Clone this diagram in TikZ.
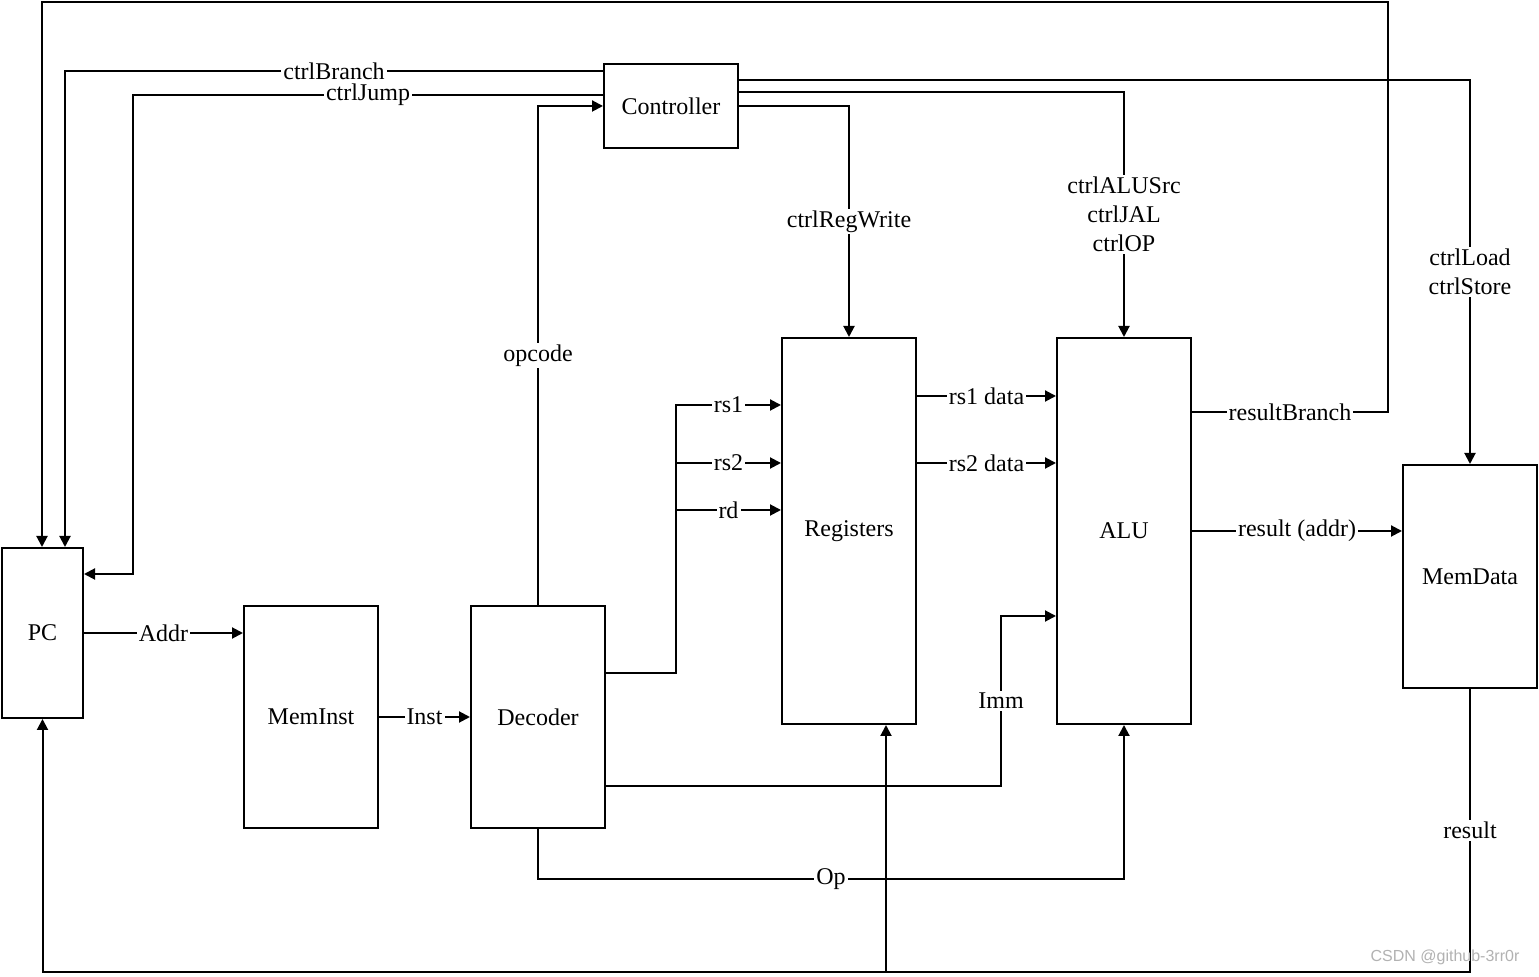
\documentclass[tikz,border=0pt]{standalone}
\usepackage{fontspec}
\setmainfont{Liberation Serif}
\newfontfamily\wmfont{Liberation Sans}
\usetikzlibrary{arrows.meta}
\begin{document}
\begin{tikzpicture}[x=0.5pt,y=-0.5pt,
  line width=1pt,
  every node/.style={font=\fontsize{12}{14.5}\selectfont},
  blk/.style={draw,line width=1pt,inner sep=0pt,align=center},
  arr/.style={-{Triangle[length=5.5pt,width=5.5pt]}},
  wire/.style={},
  lbl/.style={fill=white,inner sep=1pt,align=center}]
\useasboundingbox (0,0) rectangle (1539,977);
\fill[white] (0,0) rectangle (1539,977);
% blocks
\node[blk,minimum width=40.5pt,minimum height=85pt] (pc) at (42.5,633) {PC};
\node[blk,minimum width=67pt,minimum height=111pt] (mi) at (311,717) {MemInst};
\node[blk,minimum width=67pt,minimum height=111pt] (dec) at (538,717) {Decoder};
\node[blk,minimum width=67pt,minimum height=42pt] (ctrl) at (671,106) {Controller};
\node[blk,minimum width=67pt,minimum height=193pt] (reg) at (849,531) {Registers};
\node[blk,minimum width=67pt,minimum height=193pt] (alu) at (1124,531) {ALU};
\node[blk,minimum width=67pt,minimum height=111.5pt] (mem) at (1470,576.5) {MemData};
% junction coordinates
\coordinate (jrs2) at (676,463);
\coordinate (jrd) at (676,510);
\coordinate (jres) at (886,972);
% connectors
\draw[arr] (alu.east |- 0,412) -- node[lbl]{resultBranch} (1388,412) |- (42,2) -- (pc.north -| 42,0);
\draw[arr] (ctrl.west |- 0,71) -- node[lbl]{ctrlBranch} (65,71) -- (pc.north -| 65,0);
\draw[arr] (ctrl.west |- 0,95) -- node[lbl]{ctrlJump} (133,95) |- (pc.east |- 0,574);
\draw[arr] (dec.north) |- node[lbl,pos=0.25]{opcode} (ctrl.west);
\draw[arr] (ctrl.east |- 0,80) -| node[lbl,pos=0.75]{ctrlLoad\\ctrlStore} (mem.north);
\draw[arr] (ctrl.east |- 0,92) -| node[lbl,pos=0.75]{ctrlALUSrc\\ctrlJAL\\ctrlOP} (alu.north);
\draw[arr] (ctrl.east) -| node[lbl,pos=0.75]{ctrlRegWrite} (reg.north);
\draw[arr] (dec.east |- 0,673) -| (676,405) -- node[lbl]{rs1} (reg.west |- 0,405);
\draw[arr] (jrs2) -- node[lbl]{rs2} (reg.west |- jrs2);
\draw[arr] (jrd) -- node[lbl]{rd} (reg.west |- jrd);
\draw[arr] (reg.east |- 0,396) -- node[lbl]{rs1 data} (alu.west |- 0,396);
\draw[arr] (reg.east |- 0,463) -- node[lbl]{rs2 data} (alu.west |- 0,463);
\draw[arr] (dec.east |- 0,786) -| node[lbl,pos=0.75]{Imm} (1001,616) -- (alu.west |- 0,616);
\draw[arr] (dec.south) -- (dec.south |- 0,879) -- node[lbl]{Op} (alu.south |- 0,879) -- (alu.south);
\draw[arr] (mem.south) -- node[lbl]{result} (mem.south |- 0,972) -- (pc.south |- 0,972) -- (pc.south);
\draw[arr] (jres) -- (reg.south -| jres);
\draw[arr] (alu.east) -- node[lbl]{result (addr)} (mem.west |- alu.east);
\draw[arr] (pc.east) -- node[lbl]{Addr} (mi.west |- pc.east);
\draw[arr] (mi.east) -- node[lbl]{Inst} (dec.west);
% watermark
\node[text=black!30,font=\wmfont\fontsize{8}{9}\selectfont] (wm) at (1445,957) {CSDN @github-3rr0r};
\end{tikzpicture}
\end{document}
